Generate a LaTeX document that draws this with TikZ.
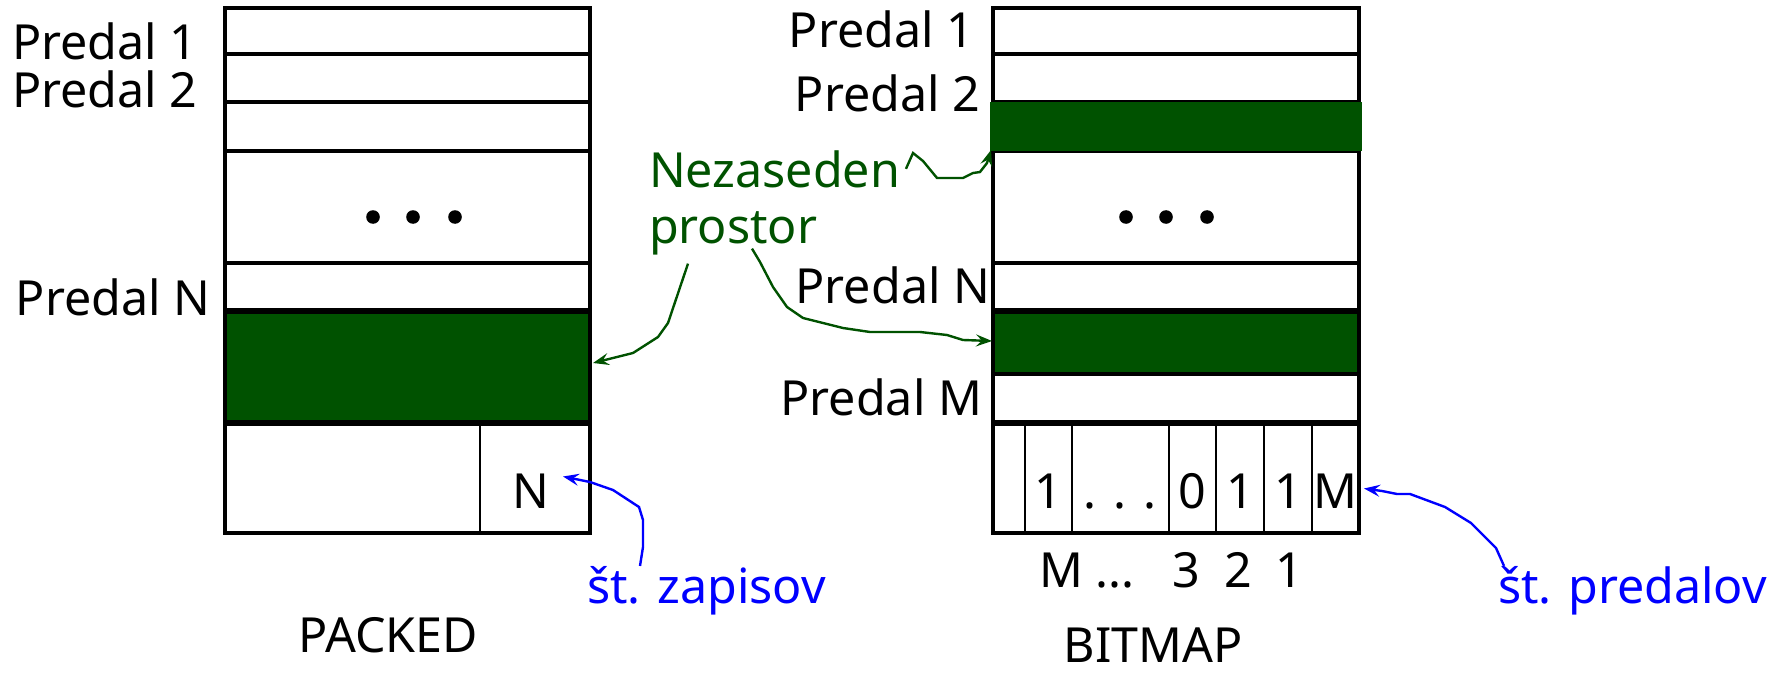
\documentclass[tikz,border=0pt]{standalone}
\usepackage{fontspec}
\setmainfont{Noto Sans}
\usetikzlibrary{arrows.meta,fit}
\definecolor{freegreen}{RGB}{0,82,0}
\definecolor{noteblue}{RGB}{0,0,255}

\begin{document}
\begin{tikzpicture}[x=0.5pt,y=-0.5pt,
  every node/.style={font=\fontsize{24.2}{29}\selectfont, inner sep=0pt, outer sep=0pt},
  slot/.style={draw=black, line width=2pt, fill=white},
  freeslot/.style={draw=black, line width=2pt, fill=freegreen},
  freeband/.style={draw=freegreen, line width=1pt, fill=freegreen},
  cell/.style={draw=black, line width=1.2pt},
  frame/.style={draw=black, line width=2pt},
  dotmark/.style={circle, fill=black, minimum size=6.8pt},
  lleft/.style={anchor=base west},
  lright/.style={anchor=base east},
  ctext/.style={anchor=base},
  gnote/.style={freegreen, line width=1.2pt, -{Stealth[length=8pt,width=6pt,inset=3pt]}},
  bnote/.style={noteblue, line width=1.2pt, -{Stealth[length=8pt,width=6pt,inset=3pt]}}
]
\useasboundingbox (0,0) rectangle (1777,674);

% ---------------- PACKED ----------------
\node[slot, fit={(225,8) (590,54)}]    (L1) {};
\node[slot, fit={(225,54) (590,102)}]  (L2) {};
\node[slot, fit={(225,102) (590,151)}] (L3) {};
\node[slot, fit={(225,151) (590,263)}] (L4) {};
\node[slot, fit={(225,263) (590,310)}] (L5) {};
\node[freeslot, fit={(225,312) (590,422)}] (LG) {};
\node[cell, fit={(225,424) (480,533)}] (P0) {};
\node[cell, fit={(480,424) (590,533)}] (P1) {};
\draw[frame] (P0.north west) rectangle (P1.south east);

\node[dotmark] (ld1) at (373,217) {};
\node[dotmark] (ld2) at (413,217) {};
\node[dotmark] (ld3) at (455,217) {};

\node[lleft] (lp1) at (12,60)  {Predal 1};
\node[lleft] (lp2) at (12,108) {Predal 2};
\node[lleft] (lpN) at (16,315) {Predal N};
\node[ctext] (nval) at (531,508) {N};
\node[ctext] (packed) at (388,652) {PACKED};

% ---------------- BITMAP ----------------
\node[slot, fit={(993,8) (1359,54)}]    (R1) {};
\node[slot, fit={(993,54) (1359,102)}]  (R2) {};
\node[slot, fit={(993,151) (1359,263)}] (R4) {};
\node[slot, fit={(993,263) (1359,310)}] (R5) {};
\node[slot, fit={(993,374) (1359,422)}] (R7) {};
\node[freeband, fit={(991,103) (1361,150)}] (RG1) {};
\node[freeslot, fit={(993,312) (1359,374)}] (RG2) {};

\node[cell, fit={(993,424) (1025,533)}]  (C0) {};
\node[cell, fit={(1025,424) (1072,533)}] (C1) {};
\node[cell, fit={(1072,424) (1169,533)}] (C2) {};
\node[cell, fit={(1169,424) (1216,533)}] (C3) {};
\node[cell, fit={(1216,424) (1264,533)}] (C4) {};
\node[cell, fit={(1264,424) (1312,533)}] (C5) {};
\node[cell, fit={(1312,424) (1359,533)}] (C6) {};
\draw[frame] (C0.north west) rectangle (C6.south east);

\node[dotmark] (rd1) at (1126,217) {};
\node[dotmark] (rd2) at (1166,217) {};
\node[dotmark] (rd3) at (1207,217) {};

\node[lright] (rp1) at (974,48)  {Predal 1};
\node[lright] (rp2) at (980,112) {Predal 2};
\node[lright] (rpN) at (990,303) {Predal N};
\node[lright] (rpM) at (982,415) {Predal M};

\node[ctext] (b1) at (1048,508) {1};
\node[ctext] (b2) at (1120,508) {. . .};
\node[ctext] (b3) at (1192,508) {0};
\node[ctext] (b4) at (1240,508) {1};
\node[ctext] (b5) at (1288,508) {1};
\node[ctext] (b6) at (1335,508) {M};

\node[ctext] (i1) at (1061,587) {M};
\node[ctext] (i2) at (1115,587) {...};
\node[ctext] (i3) at (1186,587) {3};
\node[ctext] (i4) at (1238,587) {2};
\node[ctext] (i5) at (1289,587) {1};
\node[ctext] (bitmap) at (1153,662) {BITMAP};

% ---------------- notes ----------------
\node[lleft, text=freegreen] (nez1) at (649,187) {Nezaseden};
\node[lleft, text=freegreen] (nez2) at (649,243) {prostor};
\node[lleft, text=noteblue] (zap) at (587,603) {št. zapisov};
\node[lleft, text=noteblue] (pred) at (1498,603) {št. predalov};

\draw[gnote] ([shift={(6,0)}]nez1.east) -- (913,153) -- (923,161) -- (937,178)
  -- (963,178) -- (973,173) -- (980,172) -- (987,163) -- (RG1.south west);
\draw[gnote] ([shift={(39,9)}]nez2.south west) -- (668,323) -- (658,337)
  -- (633,353) -- ([shift={(3,-4)}]LG.east);
\draw[gnote] ([shift={(103,-6)}]nez2.south west) -- (760,262) -- (773,287)
  -- (787,307) -- (803,318) -- (843,328) -- (870,332) -- (920,332)
  -- (947,335) -- (963,340) -- ([shift={(-1,-2)}]RG2.west);

\draw[bnote] ([shift={(53,0)}]zap.north west) -- (643,547) -- (643,520)
  -- (639,507) -- (613,490) -- (590,482) -- ([shift={(-27,-2)}]P1.east);
\draw[bnote] ([shift={(6,0)}]pred.north west) -- (1496,548) -- (1471,523)
  -- (1445,507) -- (1410,494) -- (1397,494) -- (1382,491)
  -- ([shift={(5,10)}]C6.east);
\end{tikzpicture}
\end{document}
